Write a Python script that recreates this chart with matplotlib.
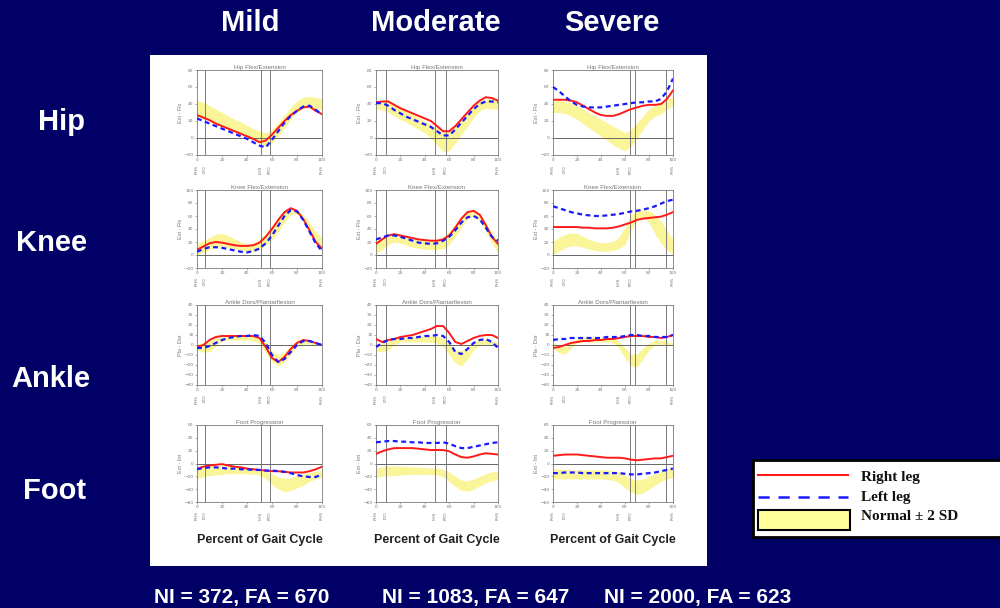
import matplotlib
matplotlib.use("Agg")
import matplotlib.pyplot as plt
from matplotlib.patches import Rectangle
from matplotlib.lines import Line2D

# ---------------------------------------------------------------- data
pct = list(range(0, 101, 5))

severity = ["Mild", "Moderate", "Severe"]
joints = ["Hip", "Knee", "Ankle", "Foot"]
sample_sizes = ["NI = 372, FA = 670", "NI = 1083, FA = 647", "NI = 2000, FA = 623"]
panel_titles = ["Hip Flex/Extension", "Knee Flex/Extension",
                "Ankle Dors/Plantarflexion", "Foot Progression"]
axis_names = ["Ext - Flx", "Ext - Flx", "Pla - Dor", "Ext - Int"]
event_names = ["RHS", "LTO", "LHS", "RTO", "RHS"]

# Hip flexion / extension (deg)
hip_mild_right = [27, 24, 21, 17, 14, 11, 8, 5, 2, -1, -5, -3, 4, 12, 20, 27, 32, 36, 37, 32, 28]
hip_mild_left = [23, 20, 17, 14, 11, 8, 5, 2, -1, -5, -9, -11, -2, 8, 18, 26, 32, 37, 38, 33, 28]
hip_mild_hi = [44, 42, 38, 34, 30, 26, 22, 19, 15, 11, 8, 6, 10, 18, 27, 36, 44, 48, 49, 48, 46]
hip_mild_lo = [25, 23, 20, 16, 13, 10, 7, 4, 1, -2, -6, -10, -6, 2, 12, 22, 30, 35, 36, 34, 32]

hip_mod_right = [42, 43, 43, 39, 35, 32, 29, 26, 23, 20, 14, 8, 8, 14, 22, 30, 38, 44, 48, 47, 44]
hip_mod_left = [41, 41, 38, 33, 29, 25, 22, 19, 16, 13, 8, 3, 3, 10, 18, 26, 34, 40, 43, 43, 42]
hip_mod_hi = [43, 44, 43, 40, 36, 32, 28, 24, 20, 16, 12, 8, 10, 16, 24, 32, 39, 44, 46, 46, 44]
hip_mod_lo = [34, 33, 30, 26, 22, 18, 14, 10, 6, 0, -8, -16, -15, -6, 4, 14, 24, 32, 35, 34, 34]

hip_sev_right = [45, 45, 45, 44, 42, 38, 34, 30, 27, 26, 26, 28, 31, 34, 36, 38, 39, 39, 40, 46, 56]
hip_sev_left = [60, 55, 49, 43, 39, 37, 36, 36, 36, 37, 38, 39, 40, 41, 42, 42, 43, 43, 46, 55, 70]
hip_sev_hi = [44, 44, 43, 41, 38, 34, 30, 26, 22, 18, 14, 10, 6, 10, 18, 26, 34, 39, 42, 46, 49]
hip_sev_lo = [30, 30, 29, 26, 22, 17, 12, 7, 2, -3, -8, -12, -15, -10, 0, 10, 20, 26, 28, 34, 38]

# Knee flexion / extension (deg)
knee_mild_right = [8, 13, 18, 20, 19, 17, 15, 14, 14, 15, 19, 28, 40, 54, 66, 72, 68, 55, 38, 20, 10]
knee_mild_left = [5, 9, 12, 12, 11, 9, 7, 5, 4, 6, 10, 18, 30, 45, 60, 69, 67, 54, 36, 18, 6]
knee_mild_hi = [18, 22, 27, 32, 33, 30, 25, 20, 17, 18, 24, 34, 46, 58, 68, 72, 70, 62, 50, 36, 26]
knee_mild_lo = [0, 4, 8, 12, 13, 11, 9, 7, 5, 5, 8, 15, 24, 36, 50, 62, 64, 55, 38, 18, 5]

knee_mod_right = [17, 24, 30, 32, 30, 28, 26, 24, 23, 22, 22, 24, 30, 42, 56, 66, 68, 62, 46, 28, 17]
knee_mod_left = [24, 27, 30, 30, 28, 25, 22, 19, 18, 17, 18, 22, 28, 38, 50, 58, 60, 55, 42, 28, 22]
knee_mod_hi = [22, 28, 33, 34, 32, 29, 26, 24, 23, 23, 24, 28, 36, 48, 60, 68, 70, 64, 50, 34, 22]
knee_mod_lo = [2, 8, 16, 20, 18, 15, 12, 10, 9, 8, 8, 10, 16, 28, 42, 56, 60, 52, 36, 18, 2]

knee_sev_right = [43, 43, 43, 43, 43, 42, 42, 41, 41, 41, 42, 44, 47, 50, 54, 56, 57, 58, 59, 62, 66]
knee_sev_left = [75, 72, 69, 66, 64, 62, 61, 60, 60, 61, 62, 63, 65, 67, 68, 70, 72, 75, 79, 83, 85]
knee_sev_hi = [21, 27, 32, 34, 33, 29, 24, 21, 19, 19, 21, 28, 42, 62, 68, 70, 68, 62, 52, 38, 24]
knee_sev_lo = [1, 6, 11, 14, 14, 12, 9, 7, 6, 6, 7, 10, 16, 38, 54, 58, 50, 32, 18, 8, 1]

# Ankle dorsi / plantarflexion (deg)
ankle_mild_right = [-2, 0, 5, 8, 9, 9, 9, 9, 9, 9, 7, -2, -13, -17, -12, -4, 2, 5, 4, 2, 0]
ankle_mild_left = [-3, -3, -1, 2, 5, 7, 8, 9, 9, 10, 9, 2, -10, -17, -14, -7, 0, 4, 4, 2, 0]
ankle_mild_hi = [1, 2, 4, 7, 8, 9, 9, 9, 9, 9, 8, 3, -6, -10, -7, 0, 5, 6, 5, 3, 1]
ankle_mild_lo = [-5, -7, -7, -1, 4, 5, 5, 5, 5, 4, 2, -8, -17, -21, -17, -9, -2, 1, 1, 0, -1]

ankle_mod_right = [6, 3, 5, 6, 8, 9, 10, 12, 14, 16, 19, 19, 12, 3, 1, 4, 7, 9, 10, 10, 7]
ankle_mod_left = [-2, 2, 5, 6, 6, 7, 7, 8, 9, 9, 10, 9, 3, -7, -9, -4, 2, 5, 6, 3, -3]
ankle_mod_hi = [1, 2, 4, 6, 7, 8, 9, 9, 9, 9, 9, 7, 2, -5, -6, -2, 3, 6, 6, 4, 3]
ankle_mod_lo = [-6, -7, -5, 0, 3, 3, 3, 3, 3, 3, 2, -2, -10, -18, -21, -14, -5, 0, 1, 0, -2]

ankle_sev_right = [-3, -2, 0, 2, 3, 4, 4, 5, 5, 6, 6, 7, 8, 9, 9, 9, 8, 8, 7, 8, 10]
ankle_sev_left = [5, 6, 6, 7, 7, 7, 7, 7, 7, 8, 8, 8, 9, 10, 10, 9, 9, 8, 8, 8, 10]
ankle_sev_hi = [2, 0, -2, 3, 6, 8, 8, 8, 7, 7, 7, 4, -3, -9, -9, -3, 2, 5, 5, 4, 2]
ankle_sev_lo = [-3, -8, -9, -3, 2, 3, 3, 3, 3, 3, 2, -3, -13, -21, -22, -14, -5, 0, 1, 0, 0]

# Foot progression angle (deg)
foot_mild_right = [-8, -5, -3, -2, -1, -3, -5, -6, -8, -9, -10, -11, -12, -12, -13, -14, -14, -14, -12, -9, -5]
foot_mild_left = [-9, -7, -6, -6, -7, -8, -8, -9, -9, -10, -10, -11, -11, -12, -13, -15, -18, -20, -21, -21, -17]
foot_mild_hi = [-5, -4, -3, -3, -3, -4, -5, -6, -7, -8, -9, -11, -16, -21, -23, -22, -19, -16, -14, -12, -10]
foot_mild_lo = [-23, -21, -19, -18, -17, -16, -16, -16, -16, -17, -18, -24, -33, -40, -44, -42, -38, -34, -28, -24, -21]

foot_mod_right = [15, 19, 22, 24, 24, 24, 24, 23, 22, 21, 21, 21, 19, 14, 10, 9, 11, 14, 16, 15, 14]
foot_mod_left = [33, 34, 35, 35, 34, 34, 33, 33, 32, 32, 32, 33, 31, 27, 24, 24, 26, 28, 30, 32, 33]
foot_mod_hi = [-7, -5, -4, -4, -4, -5, -5, -6, -6, -7, -7, -9, -13, -20, -26, -27, -24, -20, -16, -13, -12]
foot_mod_lo = [-22, -20, -19, -19, -18, -17, -17, -17, -17, -17, -18, -21, -28, -36, -42, -43, -40, -35, -30, -27, -25]

foot_sev_right = [12, 13, 14, 14, 14, 13, 12, 11, 10, 9, 9, 9, 8, 6, 5, 6, 7, 8, 8, 10, 12]
foot_sev_left = [-15, -15, -14, -14, -14, -15, -15, -15, -15, -15, -15, -15, -16, -17, -17, -16, -15, -14, -12, -10, -8]
foot_sev_hi = [-8, -9, -9, -10, -10, -10, -10, -10, -10, -10, -11, -13, -18, -24, -26, -24, -20, -16, -12, -8, -6]
foot_sev_lo = [-24, -24, -24, -24, -24, -24, -24, -24, -24, -25, -26, -30, -38, -45, -48, -46, -40, -34, -28, -24, -22]

y_limits = [(-20, 80), (-20, 100), (-40, 40), (-60, 60)]
y_steps = [20, 20, 10, 20]

# gait events (percent of cycle) per severity group
event_lines = [[6, 51, 58], [8, 48, 57], [64, 68, 94]]
event_label_pos = [[0, 6, 51, 58, 100], [0, 8, 48, 57, 100], [0, 10, 55, 65, 100]]

curves = [
    [(hip_mild_right, hip_mild_left, hip_mild_lo, hip_mild_hi),
     (hip_mod_right, hip_mod_left, hip_mod_lo, hip_mod_hi),
     (hip_sev_right, hip_sev_left, hip_sev_lo, hip_sev_hi)],
    [(knee_mild_right, knee_mild_left, knee_mild_lo, knee_mild_hi),
     (knee_mod_right, knee_mod_left, knee_mod_lo, knee_mod_hi),
     (knee_sev_right, knee_sev_left, knee_sev_lo, knee_sev_hi)],
    [(ankle_mild_right, ankle_mild_left, ankle_mild_lo, ankle_mild_hi),
     (ankle_mod_right, ankle_mod_left, ankle_mod_lo, ankle_mod_hi),
     (ankle_sev_right, ankle_sev_left, ankle_sev_lo, ankle_sev_hi)],
    [(foot_mild_right, foot_mild_left, foot_mild_lo, foot_mild_hi),
     (foot_mod_right, foot_mod_left, foot_mod_lo, foot_mod_hi),
     (foot_sev_right, foot_sev_left, foot_sev_lo, foot_sev_hi)],
]

# ---------------------------------------------------------------- style
W, H = 1000, 608
NAVY = "#000066"
RED = "#ff1a1a"
BLUE = "#1a1aff"
BAND = "#fbf59a"
GRID = "#666666"
SANS = "Liberation Sans"
SERIF = "Liberation Serif"

col_x = [(197, 322), (376, 498), (553, 673)]
row_y = [(70, 155), (190, 268), (305, 385), (425, 502)]


def fig_rect(x0, y0, x1, y1):
    """pixel box (top-left origin) -> figure fraction rect"""
    return [x0 / W, 1 - y1 / H, (x1 - x0) / W, (y1 - y0) / H]


fig = plt.figure(figsize=(W / 100, H / 100), dpi=100)
fig.patch.set_facecolor(NAVY)

# overlay in pixel units for the white sheet, headings and key
over = fig.add_axes([0, 0, 1, 1], zorder=0)
over.set_xlim(0, W)
over.set_ylim(H, 0)
over.axis("off")
over.add_patch(Rectangle((150, 55), 557, 511, facecolor="white", edgecolor="none"))

title_x = [250, 436, 612]
for name, x in zip(severity, title_x):
    over.text(x, 23, name, color="white", fontsize=21, fontweight="bold",
              family=SANS, ha="center", va="center")

row_label_pos = [(61, 122), (52, 243), (51, 379), (55, 491)]
for name, (x, y) in zip(joints, row_label_pos):
    over.text(x, y, name, color="white", fontsize=21, fontweight="bold",
              family=SANS, ha="center", va="center")

n_x = [242, 476, 698]
for txt, x in zip(sample_sizes, n_x):
    over.text(x, 598, txt, color="white", fontsize=15, fontweight="bold",
              family=SANS, ha="center", va="center")

# key
over.add_patch(Rectangle((753, 460), 252, 77, facecolor="white",
                         edgecolor="black", linewidth=2))
over.add_line(Line2D([758, 848], [475, 475], color=RED, linewidth=1.5))
over.add_line(Line2D([758, 848], [497, 497], color=BLUE, linewidth=1.8,
                     linestyle=(0, (4.5, 3.5))))
over.add_patch(Rectangle((758, 510), 92, 20, facecolor="#ffff99",
                         edgecolor="black", linewidth=1.5))
for txt, y in zip(["Right leg", "Left leg", "Normal \u00b1 2 SD"], [477, 497, 516]):
    over.text(861, y, txt, color="#111111", fontsize=11, fontweight="bold",
              family=SERIF, ha="left", va="center")

# ---------------------------------------------------------------- panels
for r in range(4):
    lo_lim, hi_lim = y_limits[r]
    ticks = list(range(lo_lim, hi_lim + 1, y_steps[r]))
    for c in range(3):
        right, left, band_lo, band_hi = curves[r][c]
        x0, x1 = col_x[c]
        y0, y1 = row_y[r]
        ax = fig.add_axes(fig_rect(x0, y0, x1, y1), zorder=2)
        ax.set_facecolor("white")
        ax.fill_between(pct, band_lo, band_hi, color=BAND, linewidth=0, zorder=1)
        ax.axhline(0, color=GRID, linewidth=0.7, zorder=2)
        for ev in event_lines[c]:
            ax.axvline(ev, color=GRID, linewidth=0.6, zorder=2)
        ax.plot(pct, right, color=RED, linewidth=1.4, zorder=4)
        ax.plot(pct, left, color=BLUE, linewidth=1.6, linestyle=(0, (2.2, 1.6)), zorder=5)
        ax.set_xlim(0, 100)
        ax.set_ylim(lo_lim, hi_lim)
        ax.set_xticks([0, 20, 40, 60, 80, 100])
        ax.set_yticks(ticks)
        ax.tick_params(labelsize=3.2, length=1.5, width=0.4, colors="#777777", pad=1)
        for sp in ax.spines.values():
            sp.set_color("#777777")
            sp.set_linewidth(0.6)
        ax.set_title(panel_titles[r], fontsize=4.5, color="#777777", pad=1, family=SANS)
        ax.set_ylabel(axis_names[r], fontsize=4, color="#777777", labelpad=1, family=SANS)
        for pos, name in zip(event_label_pos[c], event_names):
            ax.text(pos, -0.12, name, transform=ax.get_xaxis_transform(),
                    fontsize=3.2, color="#777777", rotation=90, ha="center", va="top")
        if r == 3:
            ax.text(0.5, -0.5, "Percent of Gait Cycle", transform=ax.transAxes,
                    fontsize=9, fontweight="bold", color="#222222", family=SANS,
                    ha="center", va="center")

fig.savefig("out.png", dpi=100, facecolor=NAVY)
